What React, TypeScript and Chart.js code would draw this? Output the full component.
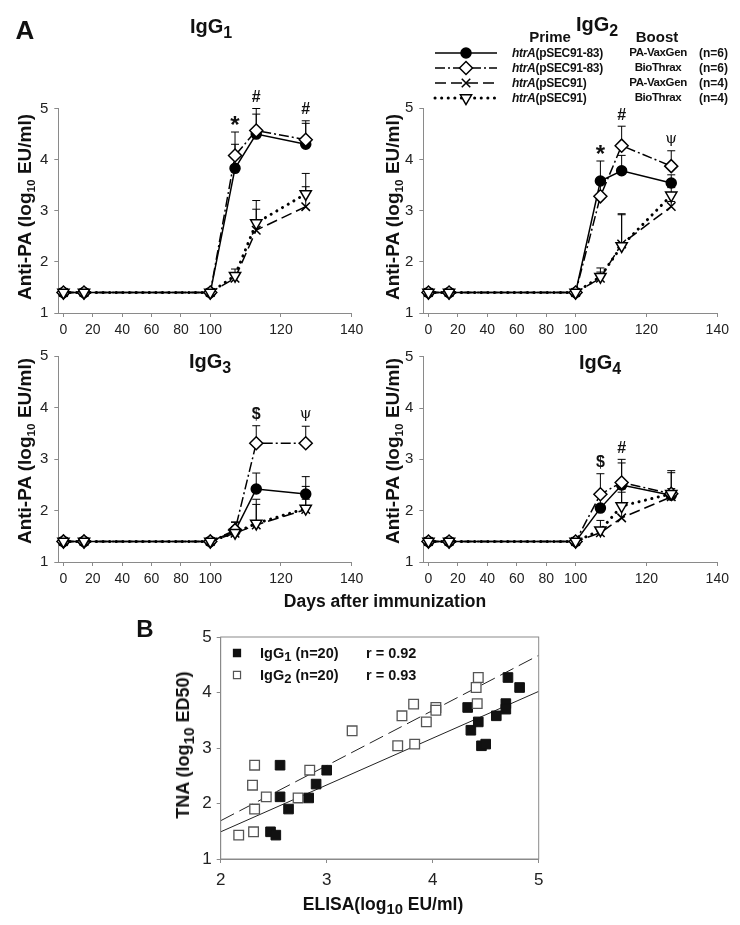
import React, { useEffect, useRef } from 'react';
import { Chart, LinearScale, registerables } from 'chart.js';
import { drawPoint } from 'chart.js/helpers';

Chart.register(...registerables);

// ---------------- DATA ----------------
const DAYS = [0, 14, 100, 107, 113, 127];
const X_TICKS = [0, 20, 40, 60, 80, 100, 120, 140];
const Y_TICKS = [1, 2, 3, 4, 5];

// IgG1
const IGG1_PA83_VAXGEN = [1.4, 1.4, 1.4, 3.83, 4.5, 4.3];
const IGG1_PA83_VAXGEN_SD = [0, 0, 0, 0.47, 0.39, 0.41];
const IGG1_PA83_BIOTHRAX = [1.4, 1.4, 1.4, 4.08, 4.57, 4.39];
const IGG1_PA83_BIOTHRAX_SD = [0, 0, 0, 0.46, 0.43, 0.37];
const IGG1_PSEC_VAXGEN = [1.4, 1.4, 1.4, 1.68, 2.62, 3.08];
const IGG1_PSEC_VAXGEN_SD = [0, 0, 0, 0.1, 0.41, 0.39];
const IGG1_PSEC_BIOTHRAX = [1.4, 1.4, 1.4, 1.73, 2.76, 3.33];
const IGG1_PSEC_BIOTHRAX_SD = [0, 0, 0, 0.13, 0.44, 0.4];
const IGG1_MARKS = [{ day: 107, text: '*' }, { day: 113, text: '#' }, { day: 127, text: '#' }];

// IgG2
const IGG2_PA83_VAXGEN = [1.4, 1.4, 1.4, 3.58, 3.78, 3.54];
const IGG2_PA83_VAXGEN_SD = [0, 0, 0, 0.39, 0.3, 0.16];
const IGG2_PA83_BIOTHRAX = [1.4, 1.4, 1.4, 3.28, 4.27, 3.87];
const IGG2_PA83_BIOTHRAX_SD = [0, 0, 0, 0.25, 0.38, 0.3];
const IGG2_PSEC_VAXGEN = [1.4, 1.4, 1.4, 1.68, 2.35, 3.08];
const IGG2_PSEC_VAXGEN_SD = [0, 0, 0, 0.12, 0.57, 0.1];
const IGG2_PSEC_BIOTHRAX = [1.4, 1.4, 1.4, 1.71, 2.31, 3.3];
const IGG2_PSEC_BIOTHRAX_SD = [0, 0, 0, 0.17, 0.63, 0.15];
const IGG2_MARKS = [{ day: 107, text: '*' }, { day: 113, text: '#' }, { day: 127, text: 'ψ' }];

// IgG3
const IGG3_PA83_VAXGEN = [1.4, 1.4, 1.4, 1.6, 2.42, 2.32];
const IGG3_PA83_VAXGEN_SD = [0, 0, 0, 0.18, 0.31, 0.34];
const IGG3_PA83_BIOTHRAX = [1.4, 1.4, 1.4, 1.62, 3.31, 3.31];
const IGG3_PA83_BIOTHRAX_SD = [0, 0, 0, 0.15, 0.34, 0.33];
const IGG3_PSEC_VAXGEN = [1.4, 1.4, 1.4, 1.56, 1.72, 2.02];
const IGG3_PSEC_VAXGEN_SD = [0, 0, 0, 0.1, 0.4, 0.2];
const IGG3_PSEC_BIOTHRAX = [1.4, 1.4, 1.4, 1.57, 1.75, 2.04];
const IGG3_PSEC_BIOTHRAX_SD = [0, 0, 0, 0.12, 0.47, 0.43];
const IGG3_MARKS = [{ day: 113, text: '$' }, { day: 127, text: 'ψ' }];

// IgG4
const IGG4_PA83_VAXGEN = [1.4, 1.4, 1.4, 2.05, 2.5, 2.3];
const IGG4_PA83_VAXGEN_SD = [0, 0, 0, 0.3, 0.43, 0.44];
const IGG4_PA83_BIOTHRAX = [1.4, 1.4, 1.4, 2.32, 2.55, 2.33];
const IGG4_PA83_BIOTHRAX_SD = [0, 0, 0, 0.4, 0.45, 0.45];
const IGG4_PSEC_VAXGEN = [1.4, 1.4, 1.4, 1.57, 1.86, 2.27];
const IGG4_PSEC_VAXGEN_SD = [0, 0, 0, 0.1, 0.5, 0.1];
const IGG4_PSEC_BIOTHRAX = [1.4, 1.4, 1.4, 1.62, 2.09, 2.33];
const IGG4_PSEC_BIOTHRAX_SD = [0, 0, 0, 0.19, 0.33, 0.1];
const IGG4_MARKS = [{ day: 107, text: '$' }, { day: 113, text: '#' }];

// Legend text
const LEGEND_PRIME = ['(pSEC91-83)', '(pSEC91-83)', '(pSEC91)', '(pSEC91)'];
const LEGEND_BOOST = ['PA-VaxGen', 'BioThrax', 'PA-VaxGen', 'BioThrax'];
const LEGEND_N = ['(n=6)', '(n=6)', '(n=4)', '(n=4)'];

// Panel B
const ELISA_IGG1 = [4.71, 4.82, 4.69, 4.69, 4.6, 4.33, 4.36, 4.43, 4.46, 4.5, 3.0, 2.9, 2.83, 2.64, 2.56, 2.56, 2.47, 2.52];
const TNA_IGG1 = [4.27, 4.09, 3.8, 3.7, 3.58, 3.73, 3.32, 3.47, 3.04, 3.07, 2.6, 2.35, 2.1, 1.9, 2.69, 2.12, 1.49, 1.43];
const ELISA_IGG2 = [4.43, 4.41, 4.42, 4.03, 4.03, 3.94, 3.82, 3.71, 3.67, 3.83, 3.24, 2.84, 2.73, 2.43, 2.32, 2.3, 2.32, 2.31, 2.17];
const TNA_IGG2 = [4.27, 4.09, 3.8, 3.73, 3.68, 3.47, 3.79, 3.58, 3.04, 3.07, 3.31, 2.6, 2.1, 2.12, 2.69, 2.33, 1.9, 1.49, 1.43];
const REG_X = [2, 5];
const REG_IGG1_Y = [1.49, 4.02];
const REG_IGG2_Y = [1.69, 4.67];
const B_X_TICKS = [2, 3, 4, 5];
const B_Y_TICKS = [1, 2, 3, 4, 5];

// ---------------- STYLE ----------------
const FONT = "'Liberation Sans', Arial, Helvetica, sans-serif";
const AXIS_COLOR = '#8a8a8a';
const TICK_COLOR = '#222';
const INK = '#111';

const SERIES_STYLES: any[] = [
  { pointStyle: 'circle', radius: 5, fill: '#000', dash: [], width: 1.5, cap: 'butt', rotation: 0, order: 3 },
  { pointStyle: 'rectRot', radius: 6.5, fill: '#fff', dash: [10, 3, 2, 3], width: 1.5, cap: 'butt', rotation: 0, order: 2 },
  { pointStyle: 'crossRot', radius: 6, fill: '#fff', dash: [11, 5], width: 1.5, cap: 'butt', rotation: 0, order: 1 },
  { pointStyle: 'triangle', radius: 6.5, fill: '#fff', dash: [0.1, 6.5], width: 3, cap: 'round', rotation: 180, order: 0 },
];

// Piecewise-linear x axis (0-100 compressed, 100-140 expanded)
const X_BREAK = 100;
const X_BREAK_FRACTION = 0.518;

class BrokenLinearScale extends LinearScale {
  static id = 'brokenLinear';
  static defaults = LinearScale.defaults;
  getPixelForValue(value: number) {
    const min = this.min, max = this.max;
    const d = value <= X_BREAK
      ? ((value - min) / (X_BREAK - min)) * X_BREAK_FRACTION
      : X_BREAK_FRACTION + ((value - X_BREAK) / (max - X_BREAK)) * (1 - X_BREAK_FRACTION);
    return this.getPixelForDecimal(d);
  }
  getValueForPixel(pixel: number) {
    const min = this.min, max = this.max;
    const d = this.getDecimalForPixel(pixel);
    return d <= X_BREAK_FRACTION
      ? min + (d / X_BREAK_FRACTION) * (X_BREAK - min)
      : X_BREAK + ((d - X_BREAK_FRACTION) / (1 - X_BREAK_FRACTION)) * (max - X_BREAK);
  }
}
Chart.register(BrokenLinearScale as any);

// ---------------- PLUGINS ----------------
const errorBarsPlugin = {
  id: 'errorBars',
  beforeDatasetsDraw(chart: any) {
    const { ctx } = chart;
    const ys = chart.scales.y;
    ctx.save();
    ctx.strokeStyle = '#000';
    ctx.lineWidth = 1;
    ctx.setLineDash([]);
    chart.data.datasets.forEach((ds: any, i: number) => {
      if (!ds.errors) return;
      const meta = chart.getDatasetMeta(i);
      meta.data.forEach((pt: any, j: number) => {
        const e = ds.errors[j];
        if (!e) return;
        const top = ys.getPixelForValue(ds.data[j].y + e);
        ctx.beginPath();
        ctx.moveTo(pt.x, pt.y);
        ctx.lineTo(pt.x, top);
        ctx.moveTo(pt.x - 4, top);
        ctx.lineTo(pt.x + 4, top);
        ctx.stroke();
      });
    });
    ctx.restore();
  },
};

const sigMarksPlugin = {
  id: 'sigMarks',
  afterDatasetsDraw(chart: any, _args: any, opts: any) {
    const marks = (opts && opts.marks) || [];
    const { ctx } = chart;
    ctx.save();
    ctx.fillStyle = INK;
    ctx.textAlign = 'center';
    ctx.textBaseline = 'middle';
    marks.forEach((m: any) => {
      const j = DAYS.indexOf(m.day);
      let top = -Infinity;
      chart.data.datasets.forEach((ds: any) => {
        top = Math.max(top, ds.data[j].y + ((ds.errors && ds.errors[j]) || 0));
      });
      const px = chart.scales.x.getPixelForValue(m.day);
      let py = chart.scales.y.getPixelForValue(top) - 11;
      if (m.text === '*') {
        ctx.font = `bold 24px ${FONT}`;
        py += 5;
      } else if (m.text === 'ψ') {
        ctx.font = `15px 'DejaVu Serif', serif`;
        py -= 1;
      } else {
        ctx.font = `bold 16px ${FONT}`;
      }
      ctx.fillText(m.text, px, py);
    });
    ctx.restore();
  },
};

const seriesLegendPlugin = {
  id: 'seriesLegend',
  afterDraw(chart: any, _args: any, opts: any) {
    if (!opts || !opts.rows) return;
    const { ctx } = chart;
    const { rows, x0, x1 } = opts;
    SERIES_STYLES.forEach((s, i) => {
      const y = rows[i];
      ctx.save();
      ctx.strokeStyle = '#000';
      ctx.lineWidth = s.width;
      ctx.lineCap = s.cap;
      ctx.setLineDash(s.dash);
      ctx.beginPath();
      ctx.moveTo(x0, y);
      ctx.lineTo(x1, y);
      ctx.stroke();
      ctx.setLineDash([]);
      ctx.lineCap = 'butt';
      ctx.lineWidth = 1.5;
      ctx.fillStyle = s.fill;
      ctx.strokeStyle = '#000';
      drawPoint(ctx, { pointStyle: s.pointStyle, radius: s.radius, rotation: s.rotation, borderWidth: 1.5 } as any, (x0 + x1) / 2, y);
      ctx.restore();
    });
  },
};

const boxPlugin = {
  id: 'boxFrame',
  afterDraw(chart: any, _args: any, opts: any) {
    const { ctx, chartArea } = chart;
    ctx.save();
    ctx.strokeStyle = AXIS_COLOR;
    ctx.lineWidth = 1;
    ctx.strokeRect(chartArea.left, chartArea.top, chartArea.right - chartArea.left, chartArea.bottom - chartArea.top);
    if (opts && opts.keys) {
      opts.keys.forEach((k: any) => {
        ctx.fillStyle = k.fill;
        ctx.strokeStyle = k.stroke;
        ctx.lineWidth = 1.2;
        drawPoint(ctx, { pointStyle: 'rect', radius: 5, rotation: 0, borderWidth: 1.2 } as any, k.x, k.y);
      });
    }
    ctx.restore();
  },
};

// ---------------- COMPONENTS ----------------
function axisCommon(size: number) {
  return {
    grid: { display: true, drawOnChartArea: false, drawTicks: true, tickLength: 4, color: AXIS_COLOR, lineWidth: 1 },
    border: { display: true, color: AXIS_COLOR, width: 1 },
    ticks: { font: { family: FONT, size }, color: TICK_COLOR, maxRotation: 0, autoSkip: false, callback: (v: any) => String(v) },
  };
}

function TimePanel(props: any) {
  const { left, top, width, height, padding, series, errors, marks, legend } = props;
  const ref = useRef<HTMLCanvasElement>(null);
  useEffect(() => {
    const datasets = SERIES_STYLES.map((s, i) => ({
      data: DAYS.map((d, j) => ({ x: d, y: series[i][j] })),
      errors: errors[i],
      borderColor: '#000',
      borderWidth: s.width,
      borderDash: s.dash,
      borderCapStyle: s.cap,
      pointStyle: s.pointStyle,
      pointRadius: s.radius,
      pointRotation: s.rotation,
      pointBackgroundColor: s.fill,
      pointBorderColor: '#000',
      pointBorderWidth: 1.5,
      order: s.order,
      clip: false,
      tension: 0,
      fill: false,
    }));
    const xc = axisCommon(14);
    const yc = axisCommon(15);
    const chart = new Chart(ref.current as HTMLCanvasElement, {
      type: 'line',
      data: { datasets } as any,
      plugins: [errorBarsPlugin, sigMarksPlugin, seriesLegendPlugin],
      options: {
        responsive: false,
        animation: false,
        events: [],
        layout: { padding },
        plugins: {
          legend: { display: false },
          tooltip: { enabled: false },
          sigMarks: { marks },
          seriesLegend: legend || {},
        } as any,
        scales: {
          x: {
            type: 'brokenLinear' as any,
            min: -3.5,
            max: 140,
            ...xc,
            ticks: { ...xc.ticks, padding: 5 },
            afterBuildTicks: (s: any) => { s.ticks = X_TICKS.map((v) => ({ value: v })); },
            afterFit: (s: any) => { s.height = 30; },
          },
          y: {
            type: 'linear',
            min: 1,
            max: 5,
            ...yc,
            ticks: { ...yc.ticks, padding: 6 },
            afterBuildTicks: (s: any) => { s.ticks = Y_TICKS.map((v) => ({ value: v })); },
            afterFit: (s: any) => { s.width = 30; },
          },
        } as any,
      },
    });
    return () => chart.destroy();
  }, []);
  return <canvas ref={ref} width={width} height={height} style={{ position: 'absolute', left, top, width, height }} />;
}

function ScatterPanel(props: any) {
  const { left, top, width, height, padding } = props;
  const ref = useRef<HTMLCanvasElement>(null);
  useEffect(() => {
    const xc = axisCommon(17);
    const yc = axisCommon(17);
    const chart = new Chart(ref.current as HTMLCanvasElement, {
      type: 'scatter',
      data: {
        datasets: [
          {
            data: ELISA_IGG1.map((x, i) => ({ x, y: TNA_IGG1[i] })),
            pointStyle: 'rect', pointRadius: 6.8, pointBackgroundColor: '#111', pointBorderColor: '#111', pointBorderWidth: 1,
            order: 1, clip: false,
          },
          {
            data: ELISA_IGG2.map((x, i) => ({ x, y: TNA_IGG2[i] })),
            pointStyle: 'rect', pointRadius: 6.8, pointBackgroundColor: '#fff', pointBorderColor: '#555', pointBorderWidth: 1.3,
            order: 0, clip: false,
          },
          {
            data: REG_X.map((x, i) => ({ x, y: REG_IGG1_Y[i] })),
            showLine: true, pointRadius: 0, borderColor: '#222', borderWidth: 1, order: 5,
          },
          {
            data: REG_X.map((x, i) => ({ x, y: REG_IGG2_Y[i] })),
            showLine: true, pointRadius: 0, borderColor: '#222', borderWidth: 1, borderDash: [15, 6], order: 5,
          },
        ],
      } as any,
      plugins: [boxPlugin],
      options: {
        responsive: false,
        animation: false,
        events: [],
        layout: { padding },
        plugins: {
          legend: { display: false },
          tooltip: { enabled: false },
          boxFrame: {
            keys: [
              { x: 107, y: 43, fill: '#111', stroke: '#111' },
              { x: 107, y: 65, fill: '#fff', stroke: '#555' },
            ],
          },
        } as any,
        scales: {
          x: {
            type: 'linear', min: 2, max: 5,
            ...xc,
            ticks: { ...xc.ticks, padding: 7 },
            afterBuildTicks: (s: any) => { s.ticks = B_X_TICKS.map((v) => ({ value: v })); },
            afterFit: (s: any) => { s.height = 30; },
          },
          y: {
            type: 'linear', min: 1, max: 5,
            ...yc,
            ticks: { ...yc.ticks, padding: 5 },
            afterBuildTicks: (s: any) => { s.ticks = B_Y_TICKS.map((v) => ({ value: v })); },
            afterFit: (s: any) => { s.width = 30; },
          },
        } as any,
      },
    });
    return () => chart.destroy();
  }, []);
  return <canvas ref={ref} width={width} height={height} style={{ position: 'absolute', left, top, width, height }} />;
}

function Txt(props: any) {
  const { x, y, size = 16, bold = true, italic = false, rotate = false, align = 'center', children, family = FONT, spacing = 0 } = props;
  const tx = align === 'left' ? '0' : '-50%';
  return (
    <div
      style={{
        position: 'absolute', left: x, top: y,
        transform: `translate(${tx}, -50%)${rotate ? ' rotate(-90deg)' : ''}`,
        fontSize: size, fontWeight: bold ? 'bold' : 'normal', fontStyle: italic ? 'italic' : 'normal',
        fontFamily: family, whiteSpace: 'nowrap', lineHeight: 1, color: INK, letterSpacing: spacing,
      }}
    >
      {children}
    </div>
  );
}

const Sub = ({ children, scale = 0.75, drop = 0.35 }: any) => (
  <span style={{ fontSize: `${scale}em`, position: 'relative', top: `${drop}em` }}>{children}</span>
);

const YTitle = ({ x, y }: any) => (
  <Txt x={x} y={y} size={19} rotate>Anti-PA (log<Sub scale={0.62} drop={0.35}>10</Sub> EU/ml)</Txt>
);

export default function App() {
  const TOP_PAD_L = { left: 28.3, right: 18.3, top: 108.5, bottom: 2 };
  const TOP_PAD_R = { left: 23.3, right: 22.7, top: 108.3, bottom: 2 };
  const BOT_PAD_L = { left: 28.3, right: 18.3, top: 16.3, bottom: 10 };
  const BOT_PAD_R = { left: 23.3, right: 22.7, top: 16.7, bottom: 10 };
  const legendRows = [53, 68, 83, 98];
  return (
    <div style={{ position: 'absolute', left: 0, top: 0, width: 740, height: 925, background: '#fff', overflow: 'hidden' }}>
      <TimePanel left={0} top={0} width={370} height={345} padding={TOP_PAD_L}
        series={[IGG1_PA83_VAXGEN, IGG1_PA83_BIOTHRAX, IGG1_PSEC_VAXGEN, IGG1_PSEC_BIOTHRAX]}
        errors={[IGG1_PA83_VAXGEN_SD, IGG1_PA83_BIOTHRAX_SD, IGG1_PSEC_VAXGEN_SD, IGG1_PSEC_BIOTHRAX_SD]}
        marks={IGG1_MARKS} />
      <TimePanel left={370} top={0} width={370} height={345} padding={TOP_PAD_R}
        series={[IGG2_PA83_VAXGEN, IGG2_PA83_BIOTHRAX, IGG2_PSEC_VAXGEN, IGG2_PSEC_BIOTHRAX]}
        errors={[IGG2_PA83_VAXGEN_SD, IGG2_PA83_BIOTHRAX_SD, IGG2_PSEC_VAXGEN_SD, IGG2_PSEC_BIOTHRAX_SD]}
        marks={IGG2_MARKS}
        legend={{ rows: legendRows, x0: 65, x1: 127 }} />
      <TimePanel left={0} top={340} width={370} height={262} padding={BOT_PAD_L}
        series={[IGG3_PA83_VAXGEN, IGG3_PA83_BIOTHRAX, IGG3_PSEC_VAXGEN, IGG3_PSEC_BIOTHRAX]}
        errors={[IGG3_PA83_VAXGEN_SD, IGG3_PA83_BIOTHRAX_SD, IGG3_PSEC_VAXGEN_SD, IGG3_PSEC_BIOTHRAX_SD]}
        marks={IGG3_MARKS} />
      <TimePanel left={370} top={340} width={370} height={262} padding={BOT_PAD_R}
        series={[IGG4_PA83_VAXGEN, IGG4_PA83_BIOTHRAX, IGG4_PSEC_VAXGEN, IGG4_PSEC_BIOTHRAX]}
        errors={[IGG4_PA83_VAXGEN_SD, IGG4_PA83_BIOTHRAX_SD, IGG4_PSEC_VAXGEN_SD, IGG4_PSEC_BIOTHRAX_SD]}
        marks={IGG4_MARKS} />
      <ScatterPanel left={130} top={610} width={430} height={315}
        padding={{ left: 60.7, right: 21.3, top: 27, bottom: 36 }} />

      {/* Panel labels and titles */}
      <Txt x={25} y={30} size={26}>A</Txt>
      <Txt x={145} y={629} size={24}>B</Txt>
      <Txt x={211} y={26} size={20}>IgG<Sub scale={0.8} drop={0.3}>1</Sub></Txt>
      <Txt x={597} y={24} size={20}>IgG<Sub scale={0.8} drop={0.3}>2</Sub></Txt>
      <Txt x={210} y={361} size={20}>IgG<Sub scale={0.8} drop={0.3}>3</Sub></Txt>
      <Txt x={600} y={362} size={20}>IgG<Sub scale={0.8} drop={0.3}>4</Sub></Txt>

      <YTitle x={24} y={207} />
      <YTitle x={392} y={207} />
      <YTitle x={24} y={451} />
      <YTitle x={392} y={451} />
      <Txt x={385} y={602} size={17.5}>Days after immunization</Txt>

      {/* Legend panel A */}
      <Txt x={550} y={36} size={15}>Prime</Txt>
      <Txt x={657} y={36} size={15}>Boost</Txt>
      {legendRows.map((y, i) => (
        <React.Fragment key={i}>
          <Txt x={512} y={y} size={12} align="left" spacing={-0.3}><i>htrA</i>{LEGEND_PRIME[i]}</Txt>
          <Txt x={658} y={y} size={11.5} spacing={-0.4}>{LEGEND_BOOST[i]}</Txt>
          <Txt x={699} y={y} size={12} align="left">{LEGEND_N[i]}</Txt>
        </React.Fragment>
      ))}

      {/* Panel B legend and axis titles */}
      <Txt x={260} y={653} size={14.5} align="left">IgG<Sub scale={0.9} drop={0.25}>1</Sub> (n=20)</Txt>
      <Txt x={366} y={653} size={14.5} align="left">r = 0.92</Txt>
      <Txt x={260} y={675} size={14.5} align="left">IgG<Sub scale={0.9} drop={0.25}>2</Sub> (n=20)</Txt>
      <Txt x={366} y={675} size={14.5} align="left">r = 0.93</Txt>
      <Txt x={183} y={745} size={18} rotate>TNA (log<Sub scale={0.85} drop={0.3}>10</Sub> ED50)</Txt>
      <Txt x={383} y={905} size={17.5}>ELISA(log<Sub scale={0.85} drop={0.3}>10</Sub> EU/ml)</Txt>
    </div>
  );
}
